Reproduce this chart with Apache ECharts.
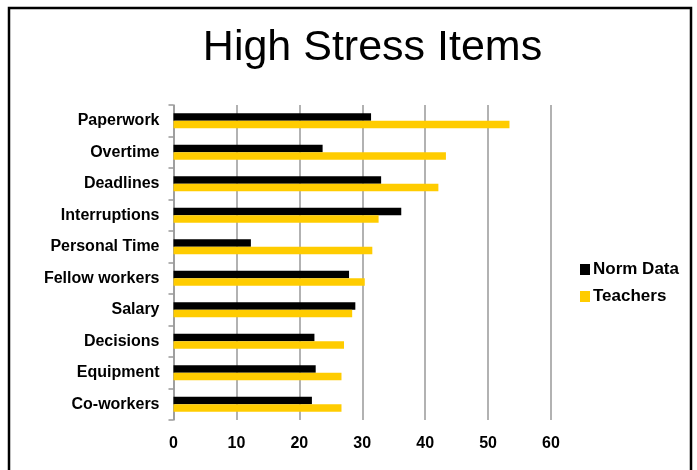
<!DOCTYPE html>
<html>
<head>
<meta charset="utf-8">
<script src="https://cdn.jsdelivr.net/npm/echarts@6/dist/echarts.min.js"></script>
<style>
html,body{margin:0;padding:0;background:#fff;}
#chart{width:697px;height:470px;}
</style>
</head>
<body>
<div id="chart"></div>
<script>
var categories = ['Paperwork', 'Overtime', 'Deadlines', 'Interruptions', 'Personal Time', 'Fellow workers', 'Salary', 'Decisions', 'Equipment', 'Co-workers'];
var normData = [31.4, 23.7, 33.0, 36.2, 12.3, 27.9, 28.9, 22.4, 22.6, 22.0];
var teachers = [53.4, 43.3, 42.1, 32.6, 31.6, 30.4, 28.4, 27.1, 26.7, 26.7];
var xTicks = [0, 10, 20, 30, 40, 50, 60];

var chart = echarts.init(document.getElementById('chart'), null, {renderer: 'canvas'});
var font = '"Liberation Sans", Arial, sans-serif';
chart.setOption({
  animation: false,
  backgroundColor: '#ffffff',
  title: {
    text: 'High Stress Items',
    left: 367.5,
    top: 22,
    textAlign: 'center',
    textStyle: {fontFamily: font, fontSize: 43, fontWeight: 'normal', color: '#000'}
  },
  legend: {
    orient: 'vertical',
    left: 580,
    top: 261,
    padding: 0,
    itemWidth: 10,
    itemHeight: 11,
    itemGap: 10,
    icon: 'rect',
    textStyle: {fontFamily: font, fontSize: 17, fontWeight: 'bold', color: '#000', lineHeight: 17, padding: [0, 0, 0, -2]},
    data: ['Norm Data', 'Teachers']
  },
  grid: {left: 173.5, right: 146, top: 105, bottom: 50, containLabel: false},
  xAxis: {
    type: 'value',
    min: xTicks[0],
    max: xTicks[xTicks.length - 1],
    interval: 10,
    axisLine: {show: false},
    axisTick: {show: false},
    axisLabel: {fontFamily: font, fontSize: 16, fontWeight: 'bold', color: '#000', margin: 16},
    splitLine: {show: true, lineStyle: {color: '#999', width: 1.5}}
  },
  yAxis: {
    type: 'category',
    inverse: true,
    data: categories,
    axisLine: {show: true, lineStyle: {color: '#999', width: 1.5}},
    axisTick: {show: true, inside: false, length: 5, lineStyle: {color: '#999', width: 1.5}},
    axisLabel: {fontFamily: font, fontSize: 16, fontWeight: 'bold', color: '#000', margin: 14},
    splitLine: {show: false}
  },
  series: [
    {name: 'Norm Data', type: 'bar', data: normData, barWidth: 7.5, barGap: '0%', itemStyle: {color: '#000000'}},
    {name: 'Teachers', type: 'bar', data: teachers, barWidth: 7.5, barGap: '0%', itemStyle: {color: '#FFCC00'}}
  ],
  graphic: [{
    type: 'rect',
    shape: {x: 9, y: 8, width: 682, height: 490},
    style: {fill: 'none', stroke: '#000', lineWidth: 2.5},
    silent: true
  }]
});
</script>
</body>
</html>
